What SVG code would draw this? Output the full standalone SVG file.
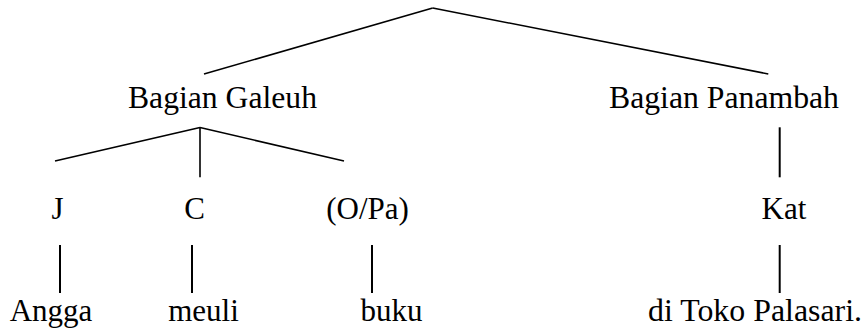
<svg xmlns="http://www.w3.org/2000/svg" width="867" height="336" viewBox="0 0 867 336">
<style>
.t{font-family:"Liberation Serif","Times New Roman",serif;font-size:31px;fill:#000;text-anchor:middle}
.ln{stroke:#000;stroke-width:1.6;fill:none}
.v{stroke-width:2}
</style>
<rect width="867" height="336" fill="#fff"/>
<g id="connectors">
<line class="ln" x1="432.7" y1="8" x2="204" y2="74"/>
<line class="ln" x1="432.7" y1="8" x2="768.3" y2="74"/>
<line class="ln" x1="200" y1="127.5" x2="55" y2="161"/>
<line class="ln" x1="200" y1="127.5" x2="344" y2="161"/>
<line class="ln" x1="200" y1="127.5" x2="200" y2="177.3"/>
<line class="ln v" x1="779.7" y1="127.3" x2="779.7" y2="177.3"/>
<line class="ln v" x1="60" y1="245" x2="60" y2="293"/>
<line class="ln v" x1="192" y1="245" x2="192" y2="293"/>
<line class="ln v" x1="372" y1="245" x2="372" y2="293"/>
<line class="ln v" x1="779.7" y1="245" x2="779.7" y2="293"/>
</g>
<g id="node-galeuh"><text class="t" x="222.5" y="108.3" textLength="189" lengthAdjust="spacingAndGlyphs">Bagian Galeuh</text></g>
<g id="node-panambah"><text class="t" x="724" y="108.3" textLength="230" lengthAdjust="spacingAndGlyphs">Bagian Panambah</text></g>
<g id="node-j"><text class="t" x="57.5" y="218.5">J</text></g>
<g id="node-c"><text class="t" x="194.5" y="218.5">C</text></g>
<g id="node-opa"><text class="t" x="367.5" y="218.5">(O/Pa)</text></g>
<g id="node-kat"><text class="t" x="784" y="218.5">Kat</text></g>
<g id="node-angga"><text class="t" x="51" y="321">Angga</text></g>
<g id="node-meuli"><text class="t" x="203.5" y="321">meuli</text></g>
<g id="node-buku"><text class="t" x="391.5" y="321">buku</text></g>
<g id="node-toko"><text class="t" x="755" y="321" textLength="214" lengthAdjust="spacingAndGlyphs">di Toko Palasari.</text></g>
</svg>
